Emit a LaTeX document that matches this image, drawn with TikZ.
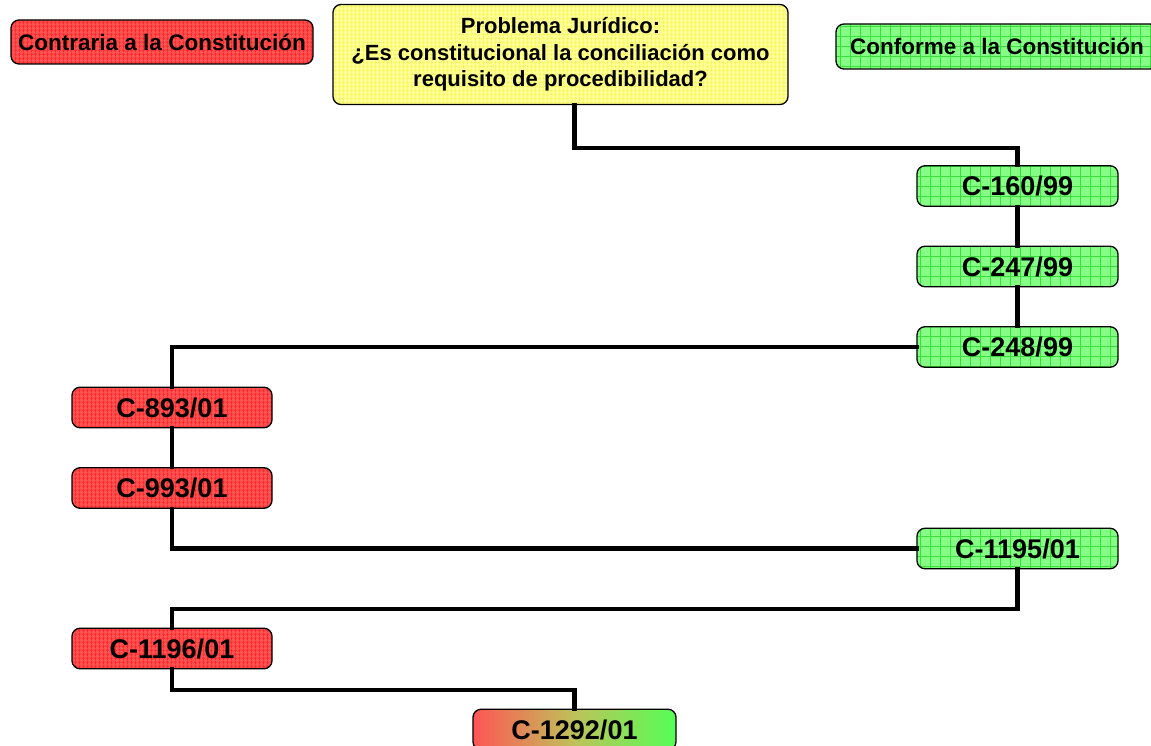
\documentclass[tikz,border=0pt]{standalone}
\usepackage{fontspec}
\setmainfont{Liberation Sans}
\usetikzlibrary{patterns.meta}
\definecolor{rbase}{HTML}{FF5252}
\definecolor{rline}{HTML}{FF2A2A}
\definecolor{gbase}{HTML}{86FF86}
\definecolor{gline}{HTML}{3AE03A}
\definecolor{ybase}{HTML}{FFFF96}
\definecolor{yline}{HTML}{F4F450}
\definecolor{gradr}{HTML}{FF5555}
\definecolor{gradm}{HTML}{BEC25A}
\definecolor{gradg}{HTML}{55FF55}
\tikzset{
  box/.style={draw=black, line width=1.3pt, rounded corners=8pt, inner sep=0pt,
    font=\bfseries, text=black, align=center},
  redbox/.style={box, preaction={fill=rbase}, pattern={Hatch[angle=0,distance=4pt,line width=0.9pt]}, pattern color=rline},
  greenbox/.style={box, preaction={fill=gbase}, pattern={Hatch[angle=0,distance=10pt,line width=0.8pt]}, pattern color=gline},
  yellowbox/.style={box, preaction={fill=ybase}, pattern={Hatch[angle=0,distance=4pt,line width=0.8pt]}, pattern color=yline},
  case/.style={minimum width=201pt, minimum height=40.5pt, font=\bfseries\fontsize{27}{30}\selectfont},
  legend/.style={font=\bfseries\fontsize{22.5}{26}\selectfont},
  link/.style={line width=4.6pt, line join=miter, line cap=rect}
}
\begin{document}
\begin{tikzpicture}[x=1pt, y=-1pt]
\useasboundingbox (0,0) rectangle (1151,746);
\begin{scope}
\clip (0,0) rectangle (1151,746);
% nodes
\node[redbox, legend, minimum width=302pt, minimum height=44pt] (contra) at (162,42) {Contraria a la Constitución};
\node[yellowbox, minimum width=455pt, minimum height=100pt, font=\bfseries\fontsize{22}{26.5}\selectfont] (prob) at (560.5,54.5)
  {Problema Jurídico:\\¿Es constitucional la conciliación como\\requisito de procedibilidad?};
\node[greenbox, legend, minimum width=322pt, minimum height=45pt] (conf) at (997,46.5) {Conforme a la Constitución};
\node[greenbox, case] (c160) at (1017.5,186) {C-160/99};
\node[greenbox, case] (c247) at (1017.5,266.5) {C-247/99};
\node[greenbox, case] (c248) at (1017.5,347) {C-248/99};
\node[redbox, case, minimum width=200pt] (c893) at (172,407.5) {C-893/01};
\node[redbox, case, minimum width=200pt] (c993) at (172,488) {C-993/01};
\node[greenbox, case] (c1195) at (1017.5,548.5) {C-1195/01};
\node[redbox, case, minimum width=200pt] (c1196) at (172,648.5) {C-1196/01};
\node[box, case, minimum width=203pt, left color=gradr, right color=gradg, middle color=gradm] (c1292) at (574.5,729.5) {C-1292/01};
% connectors
\draw[link] (prob.south -| c1292.north) -- ++(0,43) -| (c160.north);
\draw[link] (c160.south) -- (c247.north);
\draw[link] (c247.south) -- (c248.north);
\draw[link] (c248.west) -| (c893.north);
\draw[link] (c893.south) -- (c993.north);
\draw[link] (c993.south) |- (c1195.west);
\draw[link] (c1195.south) -- ++(0,39.5) -| (c1196.north);
\draw[link] (c1196.south) -- ++(0,20.5) -| (c1292.north);
\end{scope}
\end{tikzpicture}
\end{document}
